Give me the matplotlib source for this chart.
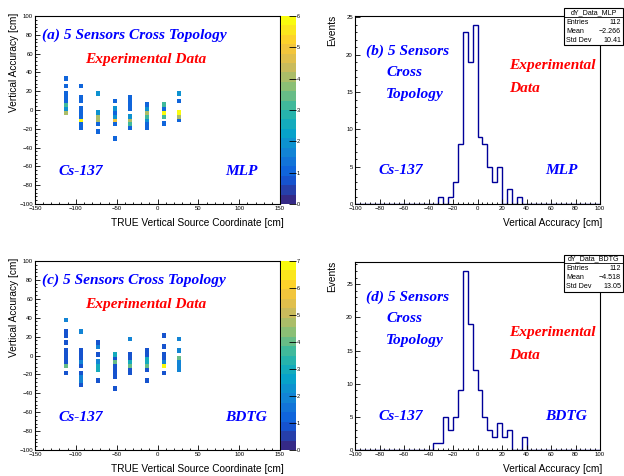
import numpy as np
import matplotlib
matplotlib.use('Agg')
import matplotlib.pyplot as plt
from matplotlib.colors import LinearSegmentedColormap, ListedColormap, Normalize
from matplotlib.ticker import MultipleLocator
from matplotlib.patches import Rectangle
from matplotlib.lines import Line2D

plt.rcParams['font.family'] = ['Liberation Sans', 'DejaVu Sans']

W, H = 624, 476

# --- data -------------------------------------------------------------
# source positions (TRUE vertical coordinate, centre of 3 cm bins)
col_x = [-112.5, -94.5, -73.5, -52.5, -34.5, -13.5, 7.5, 25.5]
# counts per column in 4 cm bins of vertical accuracy, [-36,-32] ... [36,40]
ybin_lo = -36
mlp_cols = [
    [0, 0, 0, 0, 0, 0, 0, 0, 4, 2, 3, 1, 1, 1, 0, 1, 0, 1, 0],
    [0, 0, 0, 0, 1, 1, 6, 1, 1, 1, 0, 1, 1, 0, 0, 1, 0, 0, 0],
    [0, 0, 0, 1, 0, 1, 4, 4, 2, 0, 0, 0, 0, 2, 0, 0, 0, 0, 0],
    [0, 1, 0, 0, 0, 1, 5, 2, 1, 2, 0, 1, 0, 0, 0, 0, 0, 0, 0],
    [0, 0, 0, 0, 1, 3, 4, 2, 0, 1, 1, 1, 1, 0, 0, 0, 0, 0, 0],
    [0, 0, 0, 0, 1, 1, 2, 3, 4, 2, 1, 0, 0, 0, 0, 0, 0, 0, 0],
    [0, 0, 0, 0, 0, 1, 0, 3, 6, 1, 3, 0, 0, 0, 0, 0, 0, 0, 0],
    [0, 0, 0, 0, 0, 0, 1, 4, 6, 0, 0, 1, 0, 2, 0, 0, 0, 0, 0],
]
bdtg_cols = [
    [0, 0, 0, 0, 1, 0, 4, 1, 1, 1, 1, 0, 1, 0, 1, 1, 0, 0, 2],
    [0, 1, 2, 2, 1, 0, 1, 2, 1, 1, 1, 0, 0, 0, 0, 2, 0, 0, 0],
    [0, 0, 1, 0, 0, 3, 3, 2, 0, 1, 0, 2, 1, 0, 0, 0, 0, 0, 0],
    [1, 0, 0, 1, 1, 1, 1, 4, 1, 3, 0, 0, 0, 0, 0, 0, 0, 0, 0],
    [0, 0, 0, 0, 1, 1, 4, 3, 1, 1, 0, 0, 0, 2, 0, 0, 0, 0, 0],
    [0, 0, 1, 0, 0, 1, 4, 3, 3, 1, 1, 0, 0, 0, 0, 0, 0, 0, 0],
    [0, 0, 0, 0, 1, 0, 7, 2, 1, 1, 0, 1, 0, 0, 1, 0, 0, 0, 0],
    [0, 0, 0, 0, 0, 2, 2, 2, 4, 0, 2, 0, 0, 2, 0, 0, 0, 0, 0],
]
mlp_zmax = 6
bdtg_zmax = 7

# 1D histograms, 4 cm bins, starting at the given lower edge
mlp_hist_lo = -32
mlp_hist = [1, 0, 1, 3, 8, 23, 19, 24, 9, 8, 5, 3, 5, 0, 2, 0, 1]
bdtg_hist_lo = -36
bdtg_hist = [1, 1, 5, 3, 5, 9, 27, 19, 12, 9, 5, 3, 2, 4, 2, 3, 0, 0, 2]

mlp_stats = ['dY_Data_MLP', '112', '\u22122.266', '10.41']
bdtg_stats = ['dY_Data_BDTG', '112', '\u22124.518', '13.05']

# --- ROOT kBird palette, 20 contour levels ------------------------------
stops = [0.0, 0.125, 0.25, 0.375, 0.5, 0.625, 0.75, 0.875, 1.0]
red = [0.2082, 0.0592, 0.0780, 0.0232, 0.1802, 0.5301, 0.8186, 0.9956, 0.9764]
green = [0.1664, 0.3599, 0.5041, 0.6419, 0.7178, 0.7492, 0.7328, 0.7862, 0.9832]
blue = [0.5293, 0.8684, 0.8385, 0.7914, 0.6425, 0.4662, 0.3499, 0.1968, 0.0539]
bird = LinearSegmentedColormap.from_list('bird', list(zip(stops, zip(red, green, blue))))
pal = ListedColormap(bird(np.linspace(0, 1, 20)))

fig = plt.figure(figsize=(W / 100, H / 100), dpi=100)


def rect(l, t, r, b):
    return [l / W, 1 - b / H, (r - l) / W, (b - t) / H]


def fx(x):
    return x / W


def fy(y):
    return 1 - y / H


def style(ax, xmaj, xmin, ymaj, ymin):
    ax.xaxis.set_major_locator(MultipleLocator(xmaj))
    ax.xaxis.set_minor_locator(MultipleLocator(xmin))
    ax.yaxis.set_major_locator(MultipleLocator(ymaj))
    ax.yaxis.set_minor_locator(MultipleLocator(ymin))
    ax.tick_params(which='both', direction='in', top=False, right=False,
                   labelsize=4.3, width=0.6, pad=1.5)
    ax.tick_params(which='major', length=3.3)
    ax.tick_params(which='minor', length=1.7)
    for s in ax.spines.values():
        s.set_linewidth(0.8)


def label(x, y, s, color, ha='left'):
    fig.text(fx(x), fy(y), s, color=color, ha=ha, va='baseline', size=11.1,
             family='Liberation Serif', weight='bold', style='italic')


def scatter_panel(top, bottom, cols, zmax, tag, method):
    ax = fig.add_axes(rect(35, top, 280, bottom))
    xedges = np.arange(-150, 151, 3)
    yedges = np.arange(-100, 101, 4)
    grid = np.zeros((len(yedges) - 1, len(xedges) - 1))
    y0 = (ybin_lo + 100) // 4
    for cx, counts in zip(col_x, cols):
        xi = int((cx + 150) // 3)
        grid[y0:y0 + len(counts), xi] = counts
    grid = np.ma.masked_equal(grid, 0)
    mesh = ax.pcolormesh(xedges, yedges, grid, cmap=pal, norm=Normalize(0, zmax),
                         edgecolors='face', linewidth=0.5)
    ax.set_xlim(-150, 150)
    ax.set_ylim(-100, 100)
    style(ax, 50, 10, 20, 4)

    cax = fig.add_axes(rect(281, top, 296, bottom))
    cb = fig.colorbar(mesh, cax=cax)
    cb.outline.set_visible(False)
    cb.set_ticks(range(0, zmax + 1))
    cax.tick_params(direction='in', length=5, width=0.6, labelsize=4.0, pad=0.5)

    fig.text(fx(284), fy(bottom + 18.5), 'TRUE Vertical Source Coordinate [cm]',
             ha='right', va='center', size=7.3)
    fig.text(fx(13.7), fy(top - 3), 'Vertical Accuracy [cm]', rotation=90,
             ha='center', va='top', size=7.3)

    label(41.7, top + 22.5, '(%s) 5 Sensors Cross Topology' % tag, 'blue')
    label(85, top + 47, 'Experimental Data', 'red')
    label(58.3, bottom - 29, 'Cs-137', 'blue')
    label(225.5, bottom - 29, method, 'blue')


def hist_panel(top, bottom, lo, counts, stats, tag, method, box_top):
    ax = fig.add_axes(rect(355, top, 600, bottom))
    edges = np.arange(-100, 101, 4)
    full = np.zeros(len(edges) - 1)
    i0 = (lo + 100) // 4
    full[i0:i0 + len(counts)] = counts
    ax.stairs(full, edges, color='#000099', linewidth=1.0)
    ax.set_xlim(-100, 100)
    ax.set_ylim(0, 1.05 * max(counts))
    style(ax, 20, 4, 5, 1)

    fig.text(fx(602), fy(bottom + 19), 'Vertical Accuracy [cm]',
             ha='right', va='center', size=7.3)
    fig.text(fx(332.5), fy(top - 1), 'Events', rotation=90,
             ha='center', va='top', size=7.3)

    label(366.3, top + 39, '(%s) 5 Sensors' % tag, 'blue')
    label(386, top + 60.5, 'Cross', 'blue')
    label(386, top + 82, 'Topology', 'blue')
    label(509.3, top + 53.3 + (top > 100) * 21, 'Experimental', 'red')
    label(509.3, top + 76 + (top > 100) * 21, 'Data', 'red')
    label(378.7, bottom - 30, 'Cs-137', 'blue')
    label(545.5, bottom - 30, method, 'blue')

    # stats box
    bl, br = 564, 623
    bt, bb = box_top, box_top + 37
    fig.add_artist(Rectangle((fx(bl), fy(bb)), (br - bl) / W, (bb - bt) / H,
                             transform=fig.transFigure, facecolor='white',
                             edgecolor='black', linewidth=0.8, zorder=5))
    fig.add_artist(Line2D([fx(bl), fx(br)], [fy(bt + 8.5), fy(bt + 8.5)],
                          transform=fig.transFigure, color='black', lw=0.6, zorder=6))
    fig.text(fx((bl + br) / 2), fy(bt + 4.5), stats[0], ha='center', va='center',
             size=5.1, zorder=7)
    rows = ['Entries', 'Mean', 'Std Dev']
    for k, name in enumerate(rows):
        yy = bt + 14.5 + 8.8 * k
        fig.text(fx(bl + 2.5), fy(yy), name, ha='left', va='center', size=5.1, zorder=7)
        fig.text(fx(br - 2), fy(yy), stats[k + 1], ha='right', va='center', size=5.1,
                 zorder=7)


scatter_panel(16, 204, mlp_cols, mlp_zmax, 'a', 'MLP')
scatter_panel(261, 450, bdtg_cols, bdtg_zmax, 'c', 'BDTG')
hist_panel(16, 204, mlp_hist_lo, mlp_hist, mlp_stats, 'b', 'MLP', 8)
hist_panel(262, 450, bdtg_hist_lo, bdtg_hist, bdtg_stats, 'd', 'BDTG', 254.5)

fig.savefig('out.png', dpi=100)
